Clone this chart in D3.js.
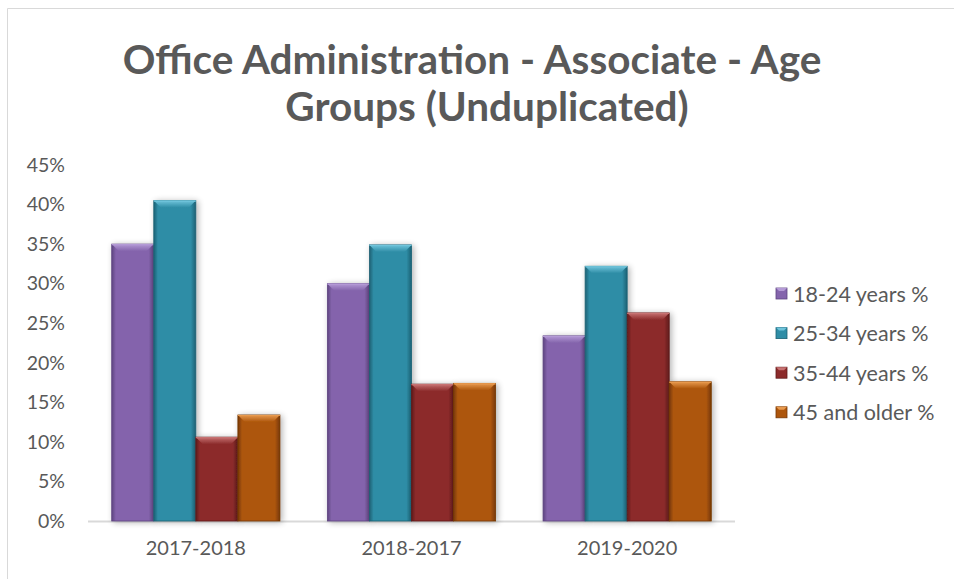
<!DOCTYPE html>
<html>
<head>
<meta charset="utf-8">
<script src="https://cdn.jsdelivr.net/npm/d3@7"></script>
<style>
  html, body { margin: 0; padding: 0; background: #fff; }
  svg { display: block; font-family: Lato, "Open Sans", sans-serif; }
</style>
</head>
<body>
<svg id="chart" width="954" height="579"></svg>
<script>
// Academic years shown on the category axis
const categories = ["2017-2018", "2018-2017", "2019-2020"];
// Age group series names
const seriesNames = ["18-24 years %", "25-34 years %", "35-44 years %", "45 and older %"];
// Share of unduplicated students per age group, one array per series (percent)
const age18to24 = [35.0, 30.0, 23.4];
const age25to34 = [40.5, 34.9, 32.2];
const age35to44 = [10.6, 17.3, 26.3];
const age45plus = [13.4, 17.4, 17.6];
// Value axis ticks (percent)
const yTicks = [0, 5, 10, 15, 20, 25, 30, 35, 40, 45];

const seriesValues = [age18to24, age25to34, age35to44, age45plus];
const palette = [
  { base: "#8464ac", light: "#b49ad6", dark: "#5e4480" },
  { base: "#2f8da6", light: "#6fc4db", dark: "#1c6174" },
  { base: "#8c2b2b", light: "#c77272", dark: "#5f1b1b" },
  { base: "#ad560c", light: "#e89a4e", dark: "#763806" }
];

const svg = d3.select("#chart");
const W = 954, H = 579;
const plot = { left: 88, right: 735, top: 165, bottom: 521 };

// Chart frame
svg.append("path")
  .attr("d", `M7.5,${H} L7.5,8.5 L${W},8.5`)
  .attr("fill", "none").attr("stroke", "#d9d9d9").attr("stroke-width", 1);

// Title
const title = svg.append("text")
  .attr("text-anchor", "middle")
  .attr("font-weight", "bold").attr("font-size", 40.5)
  .attr("fill", "#595959");
title.append("tspan").attr("x", 472).attr("y", 74).text("Office Administration - Associate - Age");
title.append("tspan").attr("x", 487).attr("y", 121).text("Groups (Unduplicated)");

const x0 = d3.scaleBand().domain(categories).range([plot.left, plot.right]).paddingInner(0.22).paddingOuter(0.11);
const x1 = d3.scaleBand().domain(d3.range(seriesNames.length)).range([0, x0.bandwidth()]).padding(0);
const y = d3.scaleLinear().domain([0, 45]).range([plot.bottom, plot.top]);

const defs = svg.append("defs");
palette.forEach((c, i) => {
  const g = defs.append("linearGradient").attr("id", "body" + i)
    .attr("x1", 0).attr("x2", 1).attr("y1", 0).attr("y2", 0);
  g.append("stop").attr("offset", "0%").attr("stop-color", c.dark);
  g.append("stop").attr("offset", "10%").attr("stop-color", c.base);
  g.append("stop").attr("offset", "88%").attr("stop-color", c.base);
  g.append("stop").attr("offset", "100%").attr("stop-color", c.dark);
  const t = defs.append("linearGradient").attr("id", "top" + i)
    .attr("x1", 0).attr("x2", 0).attr("y1", 0).attr("y2", 1);
  t.append("stop").attr("offset", "0%").attr("stop-color", c.light);
  t.append("stop").attr("offset", "100%").attr("stop-color", c.base);
});
const shadow = defs.append("filter").attr("id", "shadow")
  .attr("x", "-30%").attr("y", "-10%").attr("width", "160%").attr("height", "130%");
shadow.append("feGaussianBlur").attr("in", "SourceAlpha").attr("stdDeviation", 3).attr("result", "b");
shadow.append("feOffset").attr("in", "b").attr("dx", 2).attr("dy", 1).attr("result", "o");
shadow.append("feComponentTransfer").attr("in", "o").attr("result", "s")
  .append("feFuncA").attr("type", "linear").attr("slope", 0.3);
const merge = shadow.append("feMerge");
merge.append("feMergeNode").attr("in", "s");
merge.append("feMergeNode").attr("in", "SourceGraphic");

// Y axis labels
const yAxis = svg.append("g").attr("transform", `translate(${plot.left - 20},0)`)
  .call(d3.axisLeft(y).tickValues(yTicks).tickFormat(d => d + "%").tickSize(0));
yAxis.select(".domain").remove();
yAxis.selectAll("text").attr("fill", "#595959").attr("font-size", 19.5)
  .attr("font-family", "Lato, 'Open Sans', sans-serif");

// Category axis baseline and labels
svg.append("line").attr("x1", plot.left).attr("x2", plot.right)
  .attr("y1", plot.bottom + 0.5).attr("y2", plot.bottom + 0.5)
  .attr("stroke", "#d9d9d9").attr("stroke-width", 2);
const xAxis = svg.append("g").attr("transform", `translate(0,${plot.bottom + 17})`)
  .call(d3.axisBottom(x0).tickSize(0));
xAxis.select(".domain").remove();
xAxis.selectAll("text").attr("fill", "#595959").attr("font-size", 20)
  .attr("font-family", "Lato, 'Open Sans', sans-serif");

// Bevelled bars
const groups = svg.append("g").selectAll("g").data(categories).join("g")
  .attr("transform", d => `translate(${x0(d)},0)`);
const bars = groups.selectAll("g.bar")
  .data((cat, ci) => seriesValues.map((vals, si) => ({ si, v: vals[ci] })))
  .join("g").attr("class", "bar").attr("filter", "url(#shadow)");
bars.each(function (d) {
  const g = d3.select(this);
  const bx = x1(d.si), bw = x1.bandwidth(), top = y(d.v), bot = y(0);
  const bev = Math.min(7, (bot - top) / 2);
  const c = palette[d.si];
  g.append("rect").attr("x", bx).attr("y", top).attr("width", bw).attr("height", bot - top)
    .attr("fill", `url(#body${d.si})`).attr("stroke", c.dark).attr("stroke-width", 0.8);
  g.append("path")
    .attr("d", `M${bx},${top} L${bx + bw},${top} L${bx + bw - bev},${top + bev} L${bx + bev},${top + bev} Z`)
    .attr("fill", `url(#top${d.si})`);
  g.append("line").attr("x1", bx).attr("x2", bx + bw).attr("y1", top + 0.5).attr("y2", top + 0.5)
    .attr("stroke", c.light).attr("stroke-width", 1.2);
});

// Legend
const legend = svg.append("g").selectAll("g").data(seriesNames).join("g")
  .attr("transform", (d, i) => `translate(776,${294 + i * 39.6})`);
legend.append("rect").attr("x", 0).attr("y", -6).attr("width", 11).attr("height", 11)
  .attr("fill", (d, i) => palette[i].base).attr("stroke", (d, i) => palette[i].dark).attr("stroke-width", 0.8);
legend.append("path")
  .attr("d", "M0,-6 L11,-6 L8,-3 L3,-3 Z")
  .attr("fill", (d, i) => palette[i].light);
legend.append("text").attr("x", 17).attr("y", 0).attr("dy", "0.35em")
  .attr("font-size", 21.5).attr("fill", "#595959").text(d => d);
</script>
</body>
</html>
